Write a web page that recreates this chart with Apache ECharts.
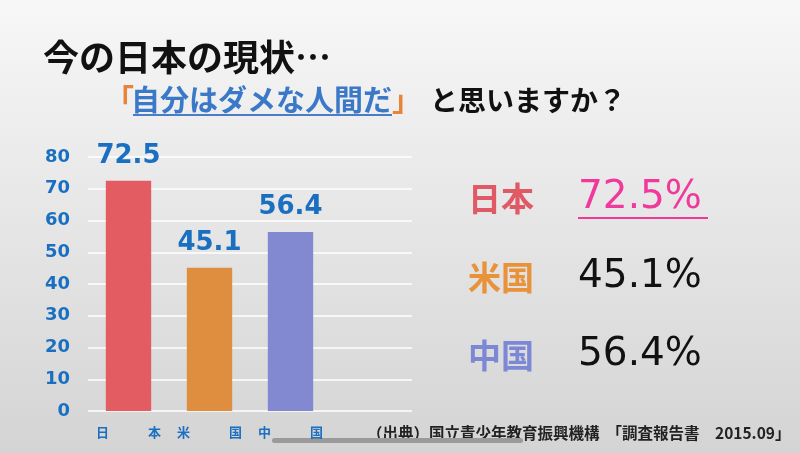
<!DOCTYPE html>
<html><head><meta charset="utf-8">
<script src="https://cdn.jsdelivr.net/npm/echarts@6/dist/echarts.min.js"></script>
<style>html,body{margin:0;padding:0;}#c{width:800px;height:453px;}</style>
</head><body><div id="c"></div>
<script>
const categories = ['日本', '米国', '中国', ''];
const values = [72.5, 45.1, 56.4, null];
const yMin = 0, yMax = 80, yStep = 10;
const title = '今の日本の現状…';
const questionMain = '自分はダメな人間だ';
const questionTail = 'と思いますか？';
const source = '（出典）国立青少年教育振興機構  「調査報告書　2015.09」';

const barColors = ['#e25c62', '#df8e40', '#8389d0'];
const nameColors = ['#e05a65', '#e8923a', '#7d88d4'];
const valueColors = ['#f0399a', '#111111', '#111111'];
const BLUE = '#1a6fc0';
const CJK = '"Noto Sans CJK JP", sans-serif';
const NUM = '"DejaVu Sans", sans-serif';

const chart = echarts.init(document.getElementById('c'));

const graphics = [
  { type: 'text', x: 43, y: 57, style: { text: title, font: 'bold 36px ' + CJK, fill: '#111', textVerticalAlign: 'middle' } },
  { type: 'text', x: 105, y: 100, style: { text: '「', font: 'bold 29px ' + CJK, fill: '#e8843a', textVerticalAlign: 'middle' } },
  { type: 'text', x: 131, y: 100, style: { text: questionMain, font: 'bold 29px ' + CJK, fill: '#3a78c8', textVerticalAlign: 'middle' } },
  { type: 'line', shape: { x1: 133, y1: 115, x2: 392, y2: 115 }, style: { stroke: '#4a7cc8', lineWidth: 2 } },
  { type: 'text', x: 392, y: 100, style: { text: '」', font: 'bold 29px ' + CJK, fill: '#e8843a', textVerticalAlign: 'middle' } },
  { type: 'text', x: 430, y: 100, style: { text: questionTail, font: 'bold 28px ' + CJK, fill: '#111', textVerticalAlign: 'middle' } },
  { type: 'text', x: 367, y: 433, style: { text: source, font: 'bold 15.5px ' + CJK, fill: '#222', textVerticalAlign: 'middle' } },
  { type: 'rect', shape: { x: 272, y: 438, width: 251, height: 5, r: 2.5 }, style: { fill: '#9a9a9a' } }
];
const rowY = [198, 277, 355];
for (let i = 0; i < 3; i++) {
  graphics.push({ type: 'text', x: 468, y: rowY[i], style: { text: categories[i], font: 'bold 33px ' + CJK, fill: nameColors[i], textVerticalAlign: 'middle' } });
  graphics.push({ type: 'text', x: 578, y: rowY[i], style: { text: values[i] + '%', font: '39px ' + NUM, fill: valueColors[i], textVerticalAlign: 'middle' } });
}
graphics.push({ type: 'line', shape: { x1: 578, y1: 218, x2: 708, y2: 218 }, style: { stroke: '#f0399a', lineWidth: 2 } });

chart.setOption({
  backgroundColor: new echarts.graphic.LinearGradient(0, 0, 0, 1, [
    { offset: 0, color: '#f7f7f7' }, { offset: 1, color: '#d4d4d4' }
  ]),
  animation: false,
  grid: { left: 88, right: 388, top: 157, bottom: 42 },
  xAxis: {
    type: 'category', data: categories,
    axisLine: { show: false }, axisTick: { show: false },
    axisLabel: {
      interval: 0, hideOverlap: false,
      margin: 15, color: BLUE, fontSize: 13, fontWeight: 'bold', fontFamily: CJK,
      formatter: v => v ? v.split('').join('　　　') : ''
    }
  },
  yAxis: {
    type: 'value', min: yMin, max: yMax, interval: yStep,
    axisLine: { show: false }, axisTick: { show: false },
    axisLabel: { margin: 18, color: BLUE, fontSize: 18, fontWeight: 'bold', fontFamily: NUM },
    splitLine: { lineStyle: { color: '#ffffff', width: 1.5 } }
  },
  series: [{
    type: 'bar', barWidth: '56%',
    data: values.map((v, i) => ({ value: v, itemStyle: { color: barColors[i] } })),
    label: { show: true, position: 'top', distance: 12, color: BLUE, fontSize: 26, fontWeight: 'bold', fontFamily: NUM }
  }],
  graphic: graphics
});
</script>
</body></html>
